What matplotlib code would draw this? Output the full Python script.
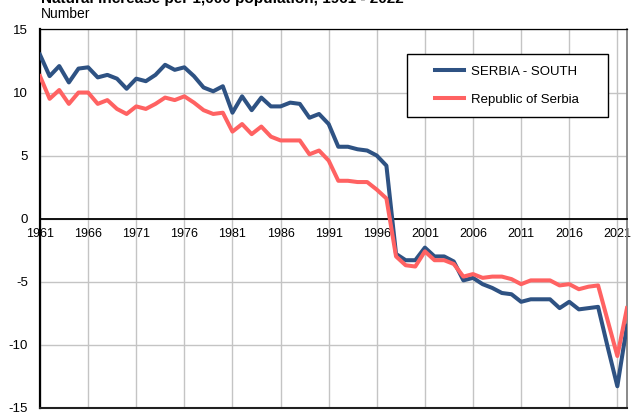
import matplotlib.pyplot as plt
from matplotlib.patches import Rectangle

plt.rcParams['font.family'] = ['Liberation Sans', 'DejaVu Sans']
plt.rcParams['axes.unicode_minus'] = False

# Natural increase per 1,000 population
years = list(range(1961, 2023))
serbia_south = [13.0, 11.3, 12.1, 10.8, 11.9, 12.0, 11.2, 11.4, 11.1, 10.3,
                11.1, 10.9, 11.4, 12.2, 11.8, 12.0, 11.3, 10.4, 10.1, 10.5,
                8.4, 9.7, 8.6, 9.6, 8.9, 8.9, 9.2, 9.1, 8.0, 8.3,
                7.5, 5.7, 5.7, 5.5, 5.4, 5.0, 4.2, -2.8, -3.3, -3.3,
                -2.3, -3.0, -3.0, -3.4, -4.9, -4.7, -5.2, -5.5, -5.9, -6.0,
                -6.6, -6.4, -6.4, -6.4, -7.1, -6.6, -7.2, -7.1, -7.0, -10.2,
                -13.3, -8.5]
republic = [11.3, 9.5, 10.2, 9.1, 10.0, 10.0, 9.1, 9.4, 8.7, 8.3,
            8.9, 8.7, 9.1, 9.6, 9.4, 9.7, 9.2, 8.6, 8.3, 8.4,
            6.9, 7.5, 6.7, 7.3, 6.5, 6.2, 6.2, 6.2, 5.1, 5.4,
            4.6, 3.0, 3.0, 2.9, 2.9, 2.3, 1.6, -3.0, -3.7, -3.8,
            -2.6, -3.3, -3.3, -3.6, -4.6, -4.4, -4.7, -4.6, -4.6, -4.8,
            -5.2, -4.9, -4.9, -4.9, -5.3, -5.2, -5.6, -5.4, -5.3, -8.1,
            -10.9, -7.1]
xticks = list(range(1961, 2022, 5))
yticks = [-15, -10, -5, 0, 5, 10, 15]

fig = plt.figure(figsize=(6.36, 4.12), dpi=100)
ax = fig.add_axes([0.0629, 0.0104, 0.9229, 0.918])

ax.plot(years, serbia_south, color='#2e5283', lw=2.9, label='SERBIA - SOUTH', zorder=3)
ax.plot(years, republic, color='#ff6262', lw=2.9, label='Republic of Serbia', zorder=3)

ax.set_xlim(1961, 2022)
ax.set_ylim(-15, 15)
ax.set_xticks(xticks)
ax.set_yticks(yticks)
ax.grid(True, color='#c4c4c4', lw=1)
ax.set_axisbelow(True)

# x axis sits on the zero line
ax.spines['bottom'].set_position(('data', 0))
ax.spines['bottom'].set_linewidth(1.3)
ax.spines['left'].set_linewidth(1.6)
ax.spines['top'].set_linewidth(0.9)
ax.spines['right'].set_color('#808080')
ax.spines['right'].set_linewidth(1.3)
ax.axhline(-15, color='#202020', lw=1.5, clip_on=False, zorder=4)
ax.tick_params(axis='x', length=0, pad=7, labelsize=9)
ax.tick_params(axis='y', length=0, pad=8.5, labelsize=9.5)

# legend box
ax.add_patch(Rectangle((0.6247, 0.768), 0.3423, 0.1664, transform=ax.transAxes,
                       facecolor='white', edgecolor='black', lw=1, zorder=5))
leg = ax.legend(loc='center', bbox_to_anchor=(0.7958, 0.8512), frameon=False,
                fontsize=9.5, handlelength=2.2, handletextpad=0.5, labelspacing=1.2)
leg.set_zorder(6)

fig.text(0.0645, 0.9927, 'Natural increase per 1,000 population, 1961 - 2022',
         fontsize=11, fontweight='bold', va='baseline')
fig.text(0.0645, 0.9563, 'Number', fontsize=10, va='baseline')

fig.savefig('out.png', dpi=100)
